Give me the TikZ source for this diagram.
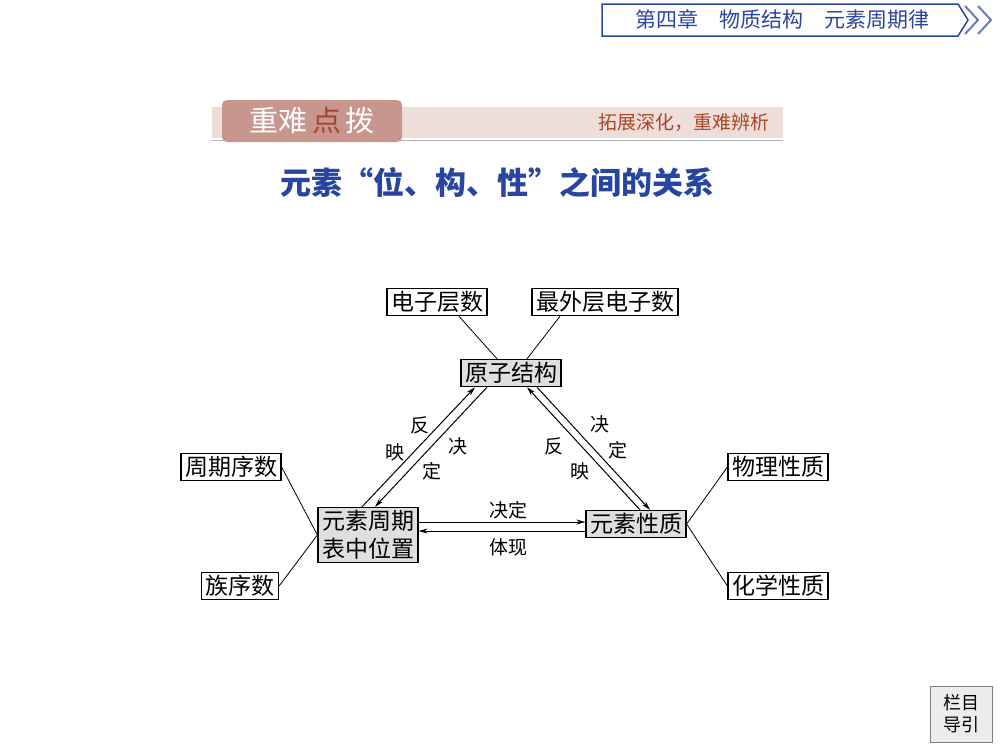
\documentclass[tikz,border=0pt]{standalone}
\usepackage{fontspec}
\setmainfont{Noto Sans CJK SC}
\usetikzlibrary{arrows.meta}
\definecolor{navblue}{RGB}{40,70,160}
\definecolor{bannerpink}{RGB}{200,150,140}
\definecolor{bannerlight}{RGB}{238,222,218}
\definecolor{bannertext}{RGB}{170,70,40}
\begin{document}
\begin{tikzpicture}[x=1pt,y=-1pt,font=\fontsize{23}{26}\selectfont,
  box/.style={draw,line width=1.2pt,inner xsep=4pt,inner ysep=3pt},
  keybox/.style={box,fill=gray!25},
  lbl/.style={font=\fontsize{19}{21}\selectfont},
  arr/.style={-{Stealth[length=9pt,width=5pt]},line width=1pt}]
\useasboundingbox (0,0) rectangle (1000,750);

% header strip
\draw[navblue,line width=1.5pt] (602,4) -- (958,4) -- (968,20) -- (958,36) -- (602,36) -- cycle;
\draw[navblue!70,line width=2pt] (965,6) -- (978,20) -- (965,34) (978,6) -- (991,20) -- (978,34);
\node[navblue,font=\fontsize{21}{23}\selectfont] (chap) at (782,19) {第四章\quad 物质结构\quad 元素周期律};

% banner
\fill[bannerlight] (212,107) rectangle (783,138);
\draw[gray!60] (212,140) -- (783,140);
\fill[bannerpink,rounded corners=5pt] (222,100) rectangle (402,142);
\node[white,font=\fontsize{29}{31}\selectfont] (ban) at (312,121) {重难\,\textcolor{bannertext}{点}\,拨};
\node[bannertext,font=\fontsize{19}{21}\selectfont] (bansub) at (684,123) {拓展深化，重难辨析};

% title
\node[navblue,font=\fontsize{31}{34}\selectfont\bfseries] (title) at (497,182) {元素“位、构、性”之间的关系};

% diagram nodes
\node[box] (layers) at (437,302) {电子层数};
\node[box] (outer) at (605,302) {最外层电子数};
\node[keybox] (atom) at (511,373) {原子结构};
\node[box] (period) at (231,467) {周期序数};
\node[box] (group) at (240,586) {族序数};
\node[keybox,align=center,font=\fontsize{23}{28}\selectfont] (pos) at (368,535) {元素周期\\表中位置};
\node[keybox] (prop) at (636,524) {元素性质};
\node[box] (phys) at (778,467) {物理性质};
\node[box] (chem) at (778,586) {化学性质};

% plain links
\draw[line width=0.8pt] ([xshift=22pt]layers.south) -- ([xshift=-14pt]atom.north);
\draw[line width=0.8pt] ([xshift=-45pt]outer.south) -- ([xshift=16pt]atom.north);
\draw[line width=0.8pt] (period.east) -- (pos.west);
\draw[line width=0.8pt] (group.east) -- (pos.west);
\draw[line width=0.8pt] (prop.east) -- (phys.west);
\draw[line width=0.8pt] (prop.east) -- (chem.west);

% arrows
\draw[arr] ([xshift=-6pt]pos.north) -- ([xshift=-36pt]atom.south);
\draw[arr] ([xshift=-24pt]atom.south) -- ([xshift=7pt]pos.north);
\draw[arr] ([xshift=4pt]prop.north) -- ([xshift=16pt]atom.south);
\draw[arr] ([xshift=26pt]atom.south) -- ([xshift=14pt]prop.north);
\draw[arr] (pos.east |- 0,522) -- (prop.west |- 0,522);
\draw[arr] (prop.west |- 0,531) -- (pos.east |- 0,531);

% arrow labels
\node[lbl] (l1) at (420,425) {反};
\node[lbl] (l2) at (395,452) {映};
\node[lbl] (l3) at (458,446) {决};
\node[lbl] (l4) at (432,471) {定};
\node[lbl] (r1) at (600,424) {决};
\node[lbl] (r2) at (618,450) {定};
\node[lbl] (r3) at (554,446) {反};
\node[lbl] (r4) at (580,471) {映};
\node[lbl] (h1) at (508,510) {决定};
\node[lbl] (h2) at (508,547) {体现};

% nav button
\node[draw=gray,fill=gray!15,line width=1pt,align=center,
  font=\fontsize{18}{22}\selectfont,minimum width=62pt,minimum height=56pt] (nav) at (961,714) {栏目\\导引};
\end{tikzpicture}
\end{document}
